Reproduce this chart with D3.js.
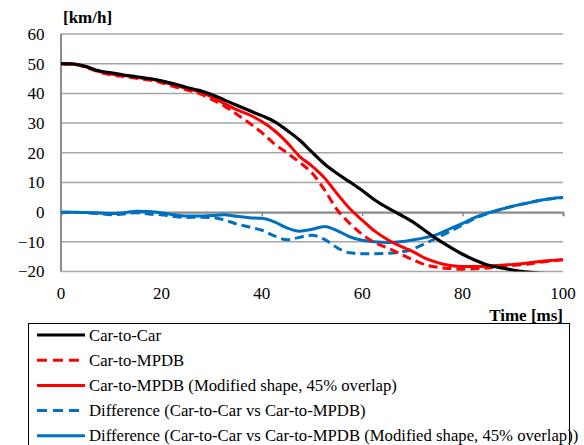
<!DOCTYPE html>
<html>
<head>
<meta charset="utf-8">
<script src="https://cdn.jsdelivr.net/npm/d3@7"></script>
<style>
  html, body { margin: 0; padding: 0; background: #fff; }
  svg { display: block; }
</style>
</head>
<body>
<svg id="chart" width="584" height="445"></svg>
<script>
// Time samples [ms]
const time = [0, 2.5, 5, 7.5, 10, 12.5, 15, 17.5, 20, 22.5, 25, 27.5, 30, 32.5, 35, 37.5, 40, 42.5, 45, 47.5, 50,
  52.5, 55, 57.5, 60, 62.5, 65, 67.5, 70, 72.5, 75, 77.5, 80, 82.5, 85, 87.5, 90, 92.5, 95, 97.5, 100];

// Velocity [km/h]
const carToCar = [50, 49.9, 49, 47.6, 46.9, 46.2, 45.6, 45, 44.2, 43.2, 42, 41, 39.6, 37.8, 36, 34.2, 32.5, 30.5, 27.6, 24.3, 20.2,
  16.2, 13, 10.2, 7.3, 4.1, 1.5, -0.8, -3.2, -6.2, -9.2, -11.8, -14.2, -16.2, -17.8, -18.7, -19.5, -20.1, -20.5, -20.9, -21.1];

const carToMpdb = [50, 49.8, 48.8, 47.2, 46.2, 45.7, 45.1, 44.5, 43.6, 42.3, 41.2, 40, 38, 35.8, 33, 30, 26.8, 23, 20, 16.8, 13.2,
  7.5, 0.8, -3.8, -7.5, -10.3, -12, -14, -16, -17.7, -18.6, -19, -19.2, -19.1, -18.8, -18.3, -18, -17.6, -17, -16.5, -16];

const carToMpdbModified = [50, 49.9, 49, 47.4, 46.5, 46, 45.4, 44.9, 44, 42.8, 41.7, 40.5, 38.8, 36.6, 34.5, 32.8, 30.5, 27.5, 23.5, 18.8, 15.5,
  11.5, 6.2, 1.2, -2.7, -6.4, -9.2, -11.4, -13.2, -15.5, -17, -18, -18.3, -18.3, -18.2, -17.9, -17.6, -17.2, -16.7, -16.3, -16];

const diffMpdb = [0, 0, -0.2, -0.5, -0.9, -0.6, -0.2, -0.6, -0.9, -1.5, -1.8, -1.7, -1.8, -2.6, -4, -5, -6.1, -8, -9.3, -8.5, -7.8,
  -9.2, -12, -13.7, -14, -14, -13.9, -13.5, -12.5, -10.6, -8.6, -6.5, -4.3, -2.1, -0.5, 0.8, 2, 2.9, 3.8, 4.5, 4.9];

const diffMpdbModified = [0, 0, -0.1, -0.3, -0.5, -0.2, 0.3, 0.2, -0.2, -0.9, -1.3, -1.3, -1.1, -0.9, -1.4, -1.9, -2.1, -3.3, -5.3, -6.4, -5.8,
  -4.8, -6.2, -8.3, -9.5, -10, -10.2, -10, -9.4, -8.6, -7.5, -5.6, -3.8, -1.8, -0.3, 0.9, 2, 2.9, 3.8, 4.5, 4.9];

const yTicks = [-20, -10, 0, 10, 20, 30, 40, 50, 60];
const xTicks = [0, 20, 40, 60, 80, 100];

const seriesNames = [
  "Car-to-Car",
  "Car-to-MPDB",
  "Car-to-MPDB (Modified shape, 45% overlap)",
  "Difference (Car-to-Car vs Car-to-MPDB)",
  "Difference (Car-to-Car vs Car-to-MPDB (Modified shape, 45% overlap))"
];
const seriesValues = [carToCar, carToMpdb, carToMpdbModified, diffMpdb, diffMpdbModified];
const seriesColors = ["#000000", "#ff0000", "#ff0000", "#0070c0", "#0070c0"];
const seriesDashed = [false, true, false, true, false];

const FONT = '"Liberation Serif", "Times New Roman", Times, serif';

const svg = d3.select("#chart").style("font-family", FONT);
const plotLeft = 61, plotRight = 563, plotTop = 34, plotBottom = 271.5;

const x = d3.scaleLinear().domain([0, 100]).range([plotLeft, plotRight]);
const y = d3.scaleLinear().domain([-20, 60]).range([plotBottom, plotTop]);

// Horizontal gridlines
svg.append("g")
  .selectAll("line")
  .data(yTicks)
  .join("line")
  .attr("x1", plotLeft).attr("x2", plotRight)
  .attr("y1", d => y(d)).attr("y2", d => y(d))
  .attr("stroke", "#a6a6a6")
  .attr("stroke-width", 1.5);

// Y axis labels
const yAxis = d3.axisLeft(y).tickValues(yTicks).tickSize(0).tickPadding(16.5);
svg.append("g")
  .attr("transform", `translate(${plotLeft},0)`)
  .call(yAxis)
  .call(g => g.select(".domain").remove())
  .call(g => g.selectAll("text")
    .style("font-family", FONT)
    .style("font-size", "17px")
    .attr("fill", "#000"));

// Vertical axis line
svg.append("line")
  .attr("x1", plotLeft).attr("x2", plotLeft)
  .attr("y1", plotTop).attr("y2", plotBottom)
  .attr("stroke", "#8c8c8c").attr("stroke-width", 2);

// Horizontal axis line at zero with ticks
const xAxis = d3.axisBottom(x).tickValues(xTicks).tickSize(4).tickFormat("");
svg.append("g")
  .attr("transform", `translate(0,${y(0)})`)
  .call(xAxis)
  .call(g => g.select(".domain").attr("stroke", "#8c8c8c").attr("stroke-width", 2))
  .call(g => g.selectAll(".tick line").attr("stroke", "#8c8c8c").attr("stroke-width", 1.5));

// X tick labels below plot
svg.append("g")
  .selectAll("text")
  .data(xTicks)
  .join("text")
  .attr("x", d => x(d))
  .attr("y", 299)
  .attr("text-anchor", "middle")
  .style("font-family", FONT)
  .style("font-size", "17px")
  .text(d => d);

// Axis titles
svg.append("text")
  .attr("x", 63).attr("y", 23)
  .style("font-family", FONT)
  .style("font-size", "17px").attr("font-weight", "bold")
  .text("[km/h]");
svg.append("text")
  .attr("x", 563).attr("y", 321)
  .attr("text-anchor", "end")
  .style("font-family", FONT)
  .style("font-size", "17px").attr("font-weight", "bold")
  .text("Time [ms]");

// Clip lines to plotting area
svg.append("clipPath").attr("id", "plotClip")
  .append("rect")
  .attr("x", plotLeft).attr("y", plotTop - 2)
  .attr("width", plotRight - plotLeft + 2).attr("height", plotBottom - plotTop + 2);

const line = d3.line()
  .x((d, i) => x(time[i]))
  .y(d => y(d))
  .curve(d3.curveMonotoneX);

const drawOrder = [4, 3, 2, 1, 0];
svg.append("g")
  .attr("clip-path", "url(#plotClip)")
  .selectAll("path")
  .data(drawOrder)
  .join("path")
  .attr("d", i => line(seriesValues[i]))
  .attr("fill", "none")
  .attr("stroke", i => seriesColors[i])
  .attr("stroke-width", i => i === 0 ? 3.2 : 3)
  .attr("stroke-dasharray", i => seriesDashed[i] ? "9,5" : null)
  .attr("stroke-linejoin", "round");

// Legend
const legend = svg.append("g");
legend.append("rect")
  .attr("x", 28.5).attr("y", 323.5)
  .attr("width", 541).attr("height", 140)
  .attr("fill", "#fff").attr("stroke", "#000").attr("stroke-width", 1);

const items = legend.selectAll("g.item")
  .data(seriesNames)
  .join("g")
  .attr("class", "item")
  .attr("transform", (d, i) => `translate(0,${335 + i * 25.2})`);

items.append("line")
  .attr("x1", 37).attr("x2", 85)
  .attr("y1", 0).attr("y2", 0)
  .attr("stroke", (d, i) => seriesColors[i])
  .attr("stroke-width", 3)
  .attr("stroke-dasharray", (d, i) => seriesDashed[i] ? "10,6" : null);

items.append("text")
  .attr("x", 89).attr("y", 5.5)
  .style("font-family", FONT)
  .style("font-size", "16.7px")
  .text(d => d);
</script>
</body>
</html>
